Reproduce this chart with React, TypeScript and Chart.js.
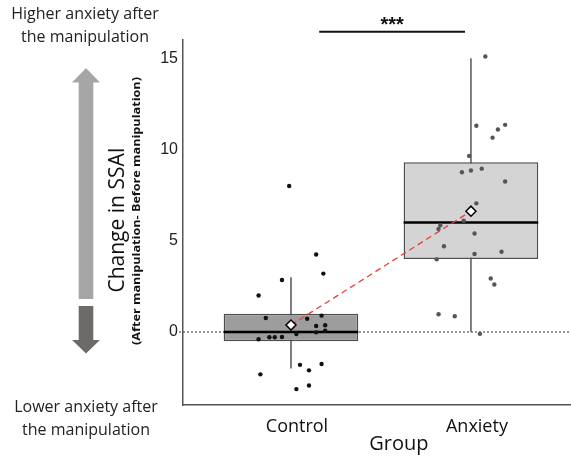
import React, { useEffect, useRef } from 'react';
import { Chart, registerables } from 'chart.js';

Chart.register(...registerables);

// ---------- data ----------
const groups = ['Control', 'Anxiety'];
const groupX = [1, 2];

const q1 = [-0.5, 4.0];
const medians = [0.0, 6.0];
const q3 = [1.0, 9.3];
const whiskerLow = [-2.0, 0.0];
const whiskerHigh = [3.0, 15.0];
const means = [0.38, 6.62];

const controlValues = [8.0, 4.25, 3.2, 2.85, 2.0, 0.77, 0.73, 0.9, 0.33, 0.37, -0.02, 0.07, -0.11, -0.4, -0.29, -0.29, -0.27, -1.8, -1.75, -2.1, -2.32, -2.93, -3.13];
const controlJitter = [-0.01, 0.14, 0.18, -0.05, -0.18, -0.14, 0.09, 0.17, 0.14, 0.19, 0.14, 0.19, 0.03, -0.18, -0.12, -0.09, -0.05, 0.05, 0.17, 0.1, -0.17, 0.1, 0.03];

const anxietyValues = [15.1, 11.3, 11.1, 11.35, 10.65, 9.65, 8.75, 8.85, 8.95, 8.25, 7.05, 6.1, 5.85, 5.65, 5.4, 4.7, 4.27, 4.4, 3.98, 2.93, 2.6, 0.97, 0.86, -0.1];
const anxietyJitter = [0.08, 0.03, 0.15, 0.19, 0.12, -0.01, -0.05, 0.0, 0.06, 0.19, 0.03, -0.04, -0.17, -0.18, 0.02, -0.15, 0.02, 0.17, -0.19, 0.11, 0.13, -0.18, -0.09, 0.05];

const yTicks = [0, 5, 10, 15];
const yMin = -4;
const yMax = 16;
const xMin = 0.4;
const xMax = 2.556;

const sigText = '***';
const sigY = 16.45;
const sigFrom = 1.157;
const sigTo = 1.967;

const xTitle = 'Group';
const xTitleAt = 1.6; // x-axis position of the title's centre
const yTitle = 'Change in SSAI';
const ySubtitle = '(After manipulation- Before manipulation)';
const topNote = ['Higher anxiety after', 'the manipulation'];
const bottomNote = ['Lower anxiety after', 'the manipulation'];

const boxFills = ['#9d9d9d', '#d4d4d4'];

// ---------- plugin ----------
const decorPlugin = {
  id: 'decor',
  beforeDatasetsDraw(chart: any) {
    const { ctx, chartArea, scales } = chart;
    const y0 = scales.y.getPixelForValue(0);
    ctx.save();
    ctx.strokeStyle = '#333';
    ctx.lineWidth = 1;
    ctx.setLineDash([2, 2]);
    ctx.beginPath();
    ctx.moveTo(chartArea.left - 4, y0);
    ctx.lineTo(chartArea.right, y0);
    ctx.stroke();
    ctx.restore();
  },
  beforeDatasetDraw(chart: any, args: any) {
    if (args.index !== 0) return;
    const { ctx, scales } = chart;
    ctx.save();
    ctx.strokeStyle = '#555';
    ctx.lineWidth = 1.5;
    groupX.forEach((gx, i) => {
      const px = scales.x.getPixelForValue(gx);
      ctx.beginPath();
      ctx.moveTo(px, scales.y.getPixelForValue(whiskerLow[i]));
      ctx.lineTo(px, scales.y.getPixelForValue(whiskerHigh[i]));
      ctx.stroke();
    });
    ctx.restore();
  },
  afterDatasetDraw(chart: any, args: any) {
    if (args.index !== 0) return;
    const { ctx, scales } = chart;
    const meta = chart.getDatasetMeta(0);
    ctx.save();
    ctx.strokeStyle = '#000';
    ctx.lineWidth = 2.5;
    meta.data.forEach((bar: any, i: number) => {
      const py = scales.y.getPixelForValue(medians[i]);
      ctx.beginPath();
      ctx.moveTo(bar.x - bar.width / 2, py);
      ctx.lineTo(bar.x + bar.width / 2, py);
      ctx.stroke();
    });
    ctx.restore();
  },
  afterDraw(chart: any) {
    const { ctx, scales } = chart;
    ctx.save();
    // significance bar
    const sy = scales.y.getPixelForValue(sigY);
    const sx1 = scales.x.getPixelForValue(sigFrom);
    const sx2 = scales.x.getPixelForValue(sigTo);
    ctx.strokeStyle = '#111';
    ctx.lineWidth = 2;
    ctx.beginPath();
    ctx.moveTo(sx1, sy);
    ctx.lineTo(sx2, sy);
    ctx.stroke();
    ctx.fillStyle = '#111';
    ctx.font = 'bold 20px "Liberation Sans"';
    ctx.textAlign = 'center';
    ctx.textBaseline = 'alphabetic';
    ctx.fillText(sigText, (sx1 + sx2) / 2, sy - 1);

    // x title
    ctx.font = '20px "Open Sans"';
    ctx.fillText(xTitle, scales.x.getPixelForValue(xTitleAt), 450);

    // notes
    ctx.fillStyle = '#222';
    ctx.font = '16px "Open Sans"';
    ctx.textBaseline = 'middle';
    ctx.fillText(topNote[0], 85, 14);
    ctx.fillText(topNote[1], 85, 37);
    ctx.fillText(bottomNote[0], 86, 407);
    ctx.fillText(bottomNote[1], 86, 430);

    // arrows
    ctx.fillStyle = '#a6a6a6';
    ctx.beginPath();
    ctx.moveTo(86, 68);
    ctx.lineTo(100, 82.5);
    ctx.lineTo(93.3, 82.5);
    ctx.lineTo(93.3, 299);
    ctx.lineTo(78.7, 299);
    ctx.lineTo(78.7, 82.5);
    ctx.lineTo(72, 82.5);
    ctx.closePath();
    ctx.fill();
    ctx.fillStyle = '#6f6a6a';
    ctx.beginPath();
    ctx.moveTo(78.7, 306);
    ctx.lineTo(93.3, 306);
    ctx.lineTo(93.3, 340);
    ctx.lineTo(100, 340);
    ctx.lineTo(86, 353.5);
    ctx.lineTo(72, 340);
    ctx.lineTo(78.7, 340);
    ctx.closePath();
    ctx.fill();

    // y titles
    ctx.fillStyle = '#111';
    ctx.textAlign = 'center';
    ctx.textBaseline = 'alphabetic';
    ctx.save();
    ctx.translate(124, 220);
    ctx.rotate(-Math.PI / 2);
    ctx.font = '21px "Open Sans"';
    ctx.fillText(yTitle, 0, 0);
    ctx.restore();
    ctx.save();
    ctx.translate(140, 211);
    ctx.rotate(-Math.PI / 2);
    ctx.scale(1.15, 1);
    ctx.font = 'bold 11px "Open Sans"';
    ctx.fillText(ySubtitle, 0, 0);
    ctx.restore();
    ctx.restore();
  },
};

export default function App() {
  const ref = useRef<HTMLCanvasElement>(null);
  useEffect(() => {
    document.body.style.margin = '0';
    const chart = new Chart(ref.current!, {
      type: 'scatter',
      data: {
        datasets: [
          {
            type: 'bar',
            data: groupX.map((x, i) => ({ x, y: [q1[i], q3[i]] })) as any,
            backgroundColor: boxFills,
            borderColor: '#4d4d4d',
            borderWidth: 1.5,
            borderSkipped: false,
            categoryPercentage: 1,
            barPercentage: 0.748,
            order: 3,
          } as any,
          {
            type: 'scatter',
            data: controlValues.map((v, i) => ({ x: groupX[0] + controlJitter[i], y: v })),
            backgroundColor: '#111',
            borderWidth: 0,
            pointRadius: 2.2,
            order: 2,
          },
          {
            type: 'scatter',
            data: anxietyValues.map((v, i) => ({ x: groupX[1] + anxietyJitter[i], y: v })),
            backgroundColor: '#555',
            borderWidth: 0,
            pointRadius: 2.2,
            order: 2,
          },
          {
            type: 'line',
            data: groupX.map((x, i) => ({ x, y: means[i] })),
            borderColor: '#e5403a',
            borderWidth: 1.3,
            borderDash: [6, 4],
            pointStyle: 'rectRot',
            pointRadius: 5,
            pointBackgroundColor: '#fff',
            pointBorderColor: '#000',
            pointBorderWidth: 1.5,
            fill: false,
            order: 0,
          } as any,
        ],
      },
      options: {
        responsive: false,
        animation: false,
        events: [],
        layout: { autoPadding: false, padding: { top: 40, right: 0, left: 0, bottom: 0 } },
        plugins: { legend: { display: false }, tooltip: { enabled: false } },
        scales: {
          x: {
            type: 'linear',
            min: xMin,
            max: xMax,
            offset: false,
            grid: { display: false, drawTicks: false, offset: false },
            border: { display: true, color: '#555', width: 1.5 },
            afterBuildTicks: (scale: any) => {
              scale.ticks = groupX.map((v) => ({ value: v }));
            },
            afterFit: (scale: any) => {
              scale.height = 59;
              scale.paddingLeft = 0;
              scale.paddingRight = 0;
            },
            ticks: {
              autoSkip: false,
              maxRotation: 0,
              padding: 11,
              labelOffset: 6,
              color: '#111',
              font: { family: '"Open Sans"', size: 18 },
              callback: (v: any) => groups[groupX.indexOf(Number(v))] ?? '',
            },
            title: { display: false },
          },
          y: {
            type: 'linear',
            min: yMin,
            max: yMax,
            grid: { display: false, drawTicks: false },
            border: { display: true, color: '#555', width: 1.5 },
            afterBuildTicks: (scale: any) => {
              scale.ticks = yTicks.map((v) => ({ value: v }));
            },
            afterFit: (scale: any) => {
              scale.width = 183;
              scale.paddingTop = 0;
              scale.paddingBottom = 0;
            },
            ticks: {
              padding: 5,
              color: '#222',
              font: { family: '"Liberation Sans"', size: 16 },
            },
          },
        },
      } as any,
      plugins: [decorPlugin],
    });
    return () => chart.destroy();
  }, []);
  return (
    <div style={{ width: 571, height: 464 }}>
      <canvas ref={ref} width={571} height={464} />
    </div>
  );
}
